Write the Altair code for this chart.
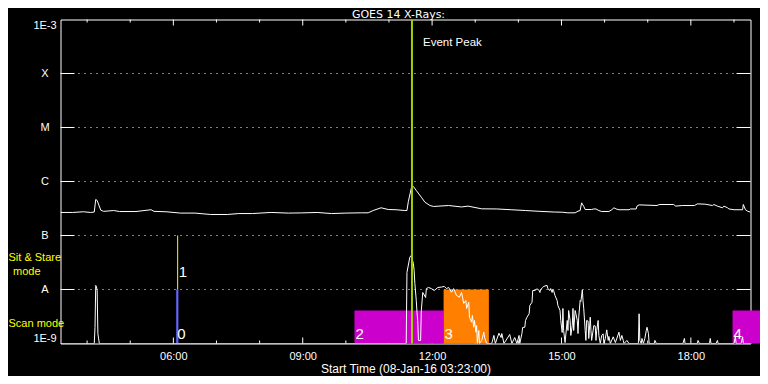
import altair as alt
import pandas as pd

# ---------------- data ----------------
t_start, t_end = "03:23", "19:23"

y_tick_values = [1e-9, 1e-8, 1e-7, 1e-6, 1e-5, 1e-4, 1e-3]
y_tick_labels = ["1E-9", "A", "B", "C", "M", "X", "1E-3"]
grid_levels = [1e-8, 1e-7, 1e-6, 1e-5, 1e-4]

major_ticks = ["06:00", "09:00", "12:00", "15:00", "18:00"]
minor_ticks = ["04:00", "05:00", "07:00", "08:00", "10:00", "11:00",
               "13:00", "14:00", "16:00", "17:00", "19:00"]

# GOES 14 long channel flux (W/m^2)
goes_series = [
    ("03:23", 2.67e-7), ("03:40", 2.67e-7), ("03:55", 2.75e-7), ("04:05", 2.67e-7),
    ("04:10", 2.72e-7), ("04:12", 4.64e-7), ("04:14", 4.45e-7), ("04:19", 2.95e-7),
    ("04:23", 2.8e-7), ("04:37", 2.9e-7), ("04:45", 2.78e-7), ("05:08", 2.78e-7),
    ("05:29", 3.0e-7), ("05:33", 2.8e-7), ("05:50", 2.75e-7), ("06:10", 2.6e-7),
    ("06:30", 2.6e-7), ("06:52", 2.45e-7), ("07:15", 2.45e-7), ("07:31", 2.55e-7),
    ("07:50", 2.55e-7), ("08:16", 2.67e-7), ("08:40", 2.6e-7), ("08:58", 2.62e-7),
    ("09:20", 2.67e-7), ("09:40", 2.55e-7), ("10:00", 2.6e-7), ("10:22", 2.63e-7),
    ("10:31", 2.63e-7), ("10:38", 2.9e-7), ("10:49", 3.26e-7), ("10:59", 3.03e-7),
    ("11:10", 3.0e-7), ("11:22", 2.9e-7), ("11:25", 2.9e-7), ("11:27", 4.3e-7),
    ("11:32", 8.54e-7), ("11:34", 8.08e-7), ("11:38", 6.81e-7), ("11:45", 5.12e-7),
    ("11:50", 4.14e-7), ("11:57", 3.59e-7), ("12:02", 3.45e-7), ("12:23", 3.59e-7),
    ("12:41", 3.38e-7), ("12:50", 3.5e-7), ("13:09", 3.12e-7), ("13:30", 3.1e-7),
    ("13:50", 3.0e-7), ("14:10", 2.9e-7), ("14:30", 2.8e-7), ("14:50", 2.72e-7),
    ("15:01", 2.7e-7), ("15:09", 2.63e-7), ("15:19", 2.63e-7), ("15:23", 2.82e-7),
    ("15:26", 2.9e-7), ("15:28", 4.03e-7), ("15:31", 3.45e-7), ("15:33", 3.03e-7),
    ("15:42", 3.03e-7), ("15:45", 3.1e-7), ("15:48", 3.1e-7), ("15:52", 2.9e-7),
    ("15:56", 2.78e-7), ("16:06", 2.78e-7), ("16:10", 3.0e-7), ("16:13", 3.26e-7),
    ("16:16", 3.1e-7), ("16:20", 3.0e-7), ("16:34", 3.0e-7), ("16:36", 3.1e-7),
    ("16:44", 3.1e-7), ("16:45", 3.5e-7), ("16:48", 3.69e-7), ("17:13", 3.59e-7),
    ("17:16", 3.75e-7), ("17:36", 3.75e-7), ("17:39", 3.5e-7), ("17:48", 3.59e-7),
    ("18:05", 3.59e-7), ("18:09", 3.85e-7), ("18:20", 3.8e-7), ("18:30", 3.59e-7),
    ("18:32", 3.75e-7), ("18:37", 3.5e-7), ("18:44", 3.26e-7), ("18:46", 3.5e-7),
    ("18:51", 3.26e-7), ("18:53", 3.1e-7), ("19:00", 3.0e-7), ("19:12", 3.0e-7),
    ("19:13", 3.75e-7), ("19:16", 3.0e-7), ("19:19", 2.82e-7), ("19:23", 2.7e-7),
]

# lower (instrument) light curve
low_series = [
    ("03:23", 1.0e-9), ("04:10", 1.0e-9), ("04:11", 1.98e-9), ("04:12", 1.19e-8),
    ("04:13", 1.14e-8), ("04:14", 9.6e-9), ("04:15", 1.53e-9), ("04:17", 1.0e-9),
    ("11:24", 1.0e-9), ("11:25", 2.07e-8), ("11:29", 3.96e-8), ("11:31", 4.26e-8),
    ("11:32", 3.75e-8), ("11:34", 3.03e-8), ("11:35", 2.25e-8), ("11:36", 1.29e-8),
    ("11:38", 6.25e-9), ("11:39", 3.75e-9), ("11:40", 2.67e-9), ("11:41", 1.14e-9),
    ("11:44", 1.14e-9), ("11:45", 4.08e-9), ("11:47", 8.8e-9), ("11:51", 7.11e-9),
    ("11:52", 1.04e-8), ("11:55", 1.09e-8), ("11:59", 1.04e-8), ("12:03", 9.58e-9),
    ("12:08", 1.09e-8), ("12:13", 1.11e-8), ("12:17", 1.14e-8), ("12:20", 1.04e-8),
    ("12:23", 1.09e-8), ("12:27", 8.9e-9), ("12:30", 1.04e-8), ("12:34", 7.74e-9),
    ("12:38", 7.2e-9), ("12:41", 8.8e-9), ("12:44", 5.51e-9), ("12:47", 6.25e-9),
    ("12:48", 4.45e-9), ("12:51", 5.8e-9), ("12:52", 3.07e-9), ("12:55", 2.48e-9),
    ("12:56", 3.3e-9), ("12:58", 2.0e-9), ("12:59", 2.67e-9), ("13:01", 1.62e-9),
    ("13:02", 2.15e-9), ("13:03", 1.0e-9), ("13:05", 1.74e-9), ("13:06", 1.0e-9),
    ("13:09", 1.14e-9), ("13:12", 1.62e-9), ("13:13", 1.29e-9), ("13:16", 1.0e-9),
    ("13:23", 1.0e-9), ("13:26", 1.41e-9), ("13:28", 1.0e-9), ("13:33", 1.55e-9),
    ("13:36", 1.29e-9), ("13:37", 1.53e-9), ("13:40", 1.0e-9), ("13:48", 1.47e-9),
    ("13:51", 1.0e-9), ("13:55", 1.29e-9), ("13:58", 1.0e-9), ("14:01", 1.41e-9),
    ("14:02", 1.0e-9), ("14:05", 1.53e-9), ("14:06", 1.98e-9), ("14:09", 2.0e-9),
    ("14:10", 2.67e-9), ("14:12", 3.07e-9), ("14:15", 3.55e-9), ("14:16", 5.06e-9),
    ("14:19", 5.8e-9), ("14:20", 9.58e-9), ("14:23", 9.58e-9), ("14:26", 1.03e-8),
    ("14:29", 9.58e-9), ("14:30", 8.8e-9), ("14:31", 1.0e-8), ("14:34", 1.09e-8),
    ("14:35", 1.14e-8), ("14:40", 1.19e-8), ("14:41", 1.04e-8), ("14:44", 9.58e-9),
    ("14:45", 1.04e-8), ("14:47", 8.8e-9), ("14:48", 1.0e-8), ("14:49", 9.58e-9),
    ("14:51", 7.74e-9), ("14:54", 6.25e-9), ("14:55", 5.06e-9), ("14:58", 4.08e-9),
    ("14:59", 2.67e-9), ("15:01", 1.6e-9), ("15:02", 4.45e-9), ("15:03", 1.74e-9),
    ("15:05", 1.04e-9), ("15:08", 2.67e-9), ("15:09", 1.74e-9), ("15:10", 4.08e-9),
    ("15:12", 2.67e-9), ("15:13", 1.41e-9), ("15:15", 2.15e-9), ("15:16", 4.45e-9),
    ("15:17", 1.74e-9), ("15:19", 4.08e-9), ("15:20", 3.6e-9), ("15:22", 2.67e-9),
    ("15:23", 1.53e-9), ("15:24", 3.07e-9), ("15:26", 6.25e-9), ("15:27", 6.0e-9),
    ("15:29", 9.87e-9), ("15:30", 6.25e-9), ("15:31", 4.39e-9), ("15:33", 1.74e-9),
    ("15:34", 1.14e-9), ("15:35", 2.67e-9), ("15:37", 2.6e-9), ("15:38", 1.24e-9),
    ("15:40", 3.07e-9), ("15:41", 1.74e-9), ("15:42", 1.14e-9), ("15:45", 2.15e-9),
    ("15:47", 2.1e-9), ("15:48", 1.14e-9), ("15:49", 1.74e-9), ("15:51", 2.67e-9),
    ("15:52", 1.41e-9), ("15:54", 1.0e-9), ("15:56", 1.41e-9), ("15:58", 1.51e-9),
    ("15:59", 1.0e-9), ("16:01", 1.24e-9), ("16:03", 1.79e-9), ("16:05", 1.14e-9),
    ("16:06", 1.35e-9), ("16:08", 1.0e-9), ("16:12", 1.33e-9), ("16:15", 1.04e-9),
    ("16:20", 1.62e-9), ("16:22", 1.14e-9), ("16:24", 1.41e-9), ("16:26", 1.14e-9),
    ("16:27", 1.0e-9), ("16:31", 1.14e-9), ("16:34", 1.0e-9), ("16:47", 1.0e-9),
    ("16:48", 3.55e-9), ("16:49", 1.14e-9), ("16:51", 1.0e-9), ("16:52", 1.24e-9),
    ("16:54", 1.0e-9), ("16:56", 1.24e-9), ("16:58", 1.74e-9), ("16:59", 2.0e-9),
    ("17:01", 1.53e-9), ("17:02", 1.0e-9), ("17:09", 1.0e-9), ("17:10", 1.14e-9),
    ("17:12", 1.0e-9), ("17:49", 1.0e-9), ("17:51", 1.24e-9), ("17:52", 1.0e-9),
    ("18:09", 1.0e-9), ("18:10", 1.14e-9), ("18:12", 1.0e-9), ("18:26", 1.0e-9),
    ("18:27", 1.24e-9), ("18:28", 1.0e-9), ("18:35", 1.0e-9), ("18:37", 1.14e-9),
    ("18:38", 1.0e-9), ("19:00", 1.0e-9), ("19:02", 1.33e-9), ("19:03", 1.0e-9),
    ("19:10", 1.0e-9), ("19:12", 1.33e-9), ("19:13", 1.0e-9), ("19:23", 1.0e-9),
]

# observation blocks
band_start = ["06:04", "10:12", "12:16", "18:58"]
band_end = ["06:07", "12:16", "13:19", "19:52"]
band_top = [1e-8, 4.08e-9, 1e-8, 4.08e-9]
band_color = ["#6464ff", "#cc00cc", "#ff8000", "#cc00cc"]

# block numbers
label_time = ["06:04", "06:06", "10:12", "12:16", "18:58"]
label_text = ["0", "1", "2", "3", "4"]
label_flux = [1.53e-9, 2.07e-8, 1.53e-9, 1.53e-9, 1.53e-9]

# sit & stare marker line
stare_time = "06:06"
stare_range = (1e-8, 1e-7)

# event peak
peak_time = "11:32"
peak_label_flux = 3.6e-4

# mode annotations on the left
mode_text_a = ["Sit & Stare", "Scan mode"]
mode_flux_a = [3.8e-8, 2.25e-9]
mode_text_b = ["mode"]
mode_flux_b = [2.07e-8]

chart_title = "GOES 14 X-Rays:"

# ---------------- helpers ----------------
def stamp(hm):
    return "2016-01-08T" + hm + ":00"


def dt(hm):
    h, m = hm.split(":")
    return alt.DateTime(year=2016, month=1, date=8, hours=int(h), minutes=int(m))


W, H = 690, 324
FONT = "Liberation Sans"

x_scale = alt.Scale(domain=[dt(t_start), dt(t_end)])
y_scale = alt.Scale(type="log", domain=[1e-9, 1e-3], nice=False)

label_expr = ""
for v, lab in zip(reversed(y_tick_values), reversed(y_tick_labels)):
    label_expr += f"datum.value > {v * 0.5} ? '{lab}' : "
label_expr += f"'{y_tick_labels[0]}'"

x_axis = alt.Axis(values=[dt(t) for t in major_ticks], format="%H:%M",
                  labelColor="white", labelFont=FONT, labelFontSize=11,
                  labelBaseline="alphabetic", labelPadding=16, labelFlush=False,
                  labelOverlap=False, ticks=False, tickSize=0, domain=False, grid=False,
                  title="Start Time (08-Jan-16 03:23:00)", titleColor="white",
                  titleFont=FONT, titleFontSize=12, titleFontWeight="normal",
                  titleBaseline="alphabetic", titleY=28.5)
y_axis = alt.Axis(values=y_tick_values, labelExpr=label_expr, labelColor="white",
                  labelFont=FONT, labelFontSize=11, labelAlign="center",
                  labelPadding=16, labelFlush=True, labelOverlap=False,
                  ticks=False, tickSize=0, domain=False, grid=False, title=None)

X = lambda f="t": alt.X(f"{f}:T", scale=x_scale, axis=x_axis)
Y = lambda f="f": alt.Y(f"{f}:Q", scale=y_scale, axis=y_axis)

# ---------------- data frames ----------------
goes_df = pd.DataFrame({"t": [stamp(t) for t, _ in goes_series],
                        "f": [v for _, v in goes_series]})
low_df = pd.DataFrame({"t": [stamp(t) for t, _ in low_series],
                       "f": [v for _, v in low_series]})
grid_df = pd.DataFrame({"f": grid_levels})
major_df = pd.DataFrame({"t": [stamp(t) for t in major_ticks]})
minor_df = pd.DataFrame({"t": [stamp(t) for t in minor_ticks]})
band_df = pd.DataFrame({"t": [stamp(t) for t in band_start],
                        "t2": [stamp(t) for t in band_end],
                        "f": [1e-9] * len(band_start), "f2": band_top,
                        "c": band_color})
label_df = pd.DataFrame({"t": [stamp(t) for t in label_time],
                         "f": label_flux, "txt": label_text})
stare_df = pd.DataFrame({"t": [stamp(stare_time)], "f": [stare_range[0]],
                         "f2": [stare_range[1]]})
peak_df = pd.DataFrame({"t": [stamp(peak_time)], "f": [peak_label_flux],
                        "txt": ["Event Peak"]})
mode_a_df = pd.DataFrame({"f": mode_flux_a, "txt": mode_text_a})
mode_b_df = pd.DataFrame({"f": mode_flux_b, "txt": mode_text_b})
title_df = pd.DataFrame({"txt": [chart_title]})

# ---------------- layers ----------------
grid_l = alt.Chart(grid_df).mark_rule(color="white", strokeWidth=1).encode(
    y=Y(), x=alt.value(0), x2=alt.value(14))
grid_m = alt.Chart(grid_df).mark_rule(color="white", strokeWidth=1,
                                      strokeDash=[1, 5]).encode(
    y=Y(), x=alt.value(18), x2=alt.value(W - 15))
grid_r = alt.Chart(grid_df).mark_rule(color="white", strokeWidth=1).encode(
    y=Y(), x=alt.value(W - 14), x2=alt.value(W))

tick_layers = []
for df, ln in ((major_df, 6), (minor_df, 3)):
    tick_layers.append(alt.Chart(df).mark_rule(color="white", strokeWidth=1).encode(
        x=X(), y=alt.value(0), y2=alt.value(ln)))
    tick_layers.append(alt.Chart(df).mark_rule(color="white", strokeWidth=1).encode(
        x=X(), y=alt.value(H), y2=alt.value(H - ln)))

bands = alt.Chart(band_df).mark_rect(clip=False).encode(
    x=X(), x2="t2:T", y=Y(), y2="f2:Q", color=alt.Color("c:N", scale=None))

stare = alt.Chart(stare_df).mark_rule(color="#ffff00", strokeWidth=1).encode(
    x=X(), y=Y(), y2="f2:Q")

goes_line = alt.Chart(goes_df).mark_line(color="white", strokeWidth=1, clip=True).encode(
    x=X(), y=Y())
low_line = alt.Chart(low_df).mark_line(color="white", strokeWidth=1, clip=True).encode(
    x=X(), y=Y())

peak_rule = alt.Chart(peak_df).mark_rule(color="#9fd200", strokeWidth=2).encode(x=X())
peak_text = alt.Chart(peak_df).mark_text(
    align="left", baseline="middle", dx=11, color="white", font=FONT,
    fontSize=11.5).encode(x=X(), y=Y(), text="txt:N")

labels = alt.Chart(label_df).mark_text(
    align="left", baseline="middle", dx=1, color="white", font=FONT,
    fontSize=15).encode(x=X(), y=Y(), text="txt:N")

mode_a = alt.Chart(mode_a_df).mark_text(
    align="left", baseline="middle", color="#ffff00", font=FONT,
    fontSize=11).encode(x=alt.value(-52), y=Y(), text="txt:N")
mode_b = alt.Chart(mode_b_df).mark_text(
    align="left", baseline="middle", color="#ffff00", font=FONT,
    fontSize=11).encode(x=alt.value(-47.5), y=Y(), text="txt:N")

title_text = alt.Chart(title_df).mark_text(
    align="center", baseline="alphabetic", color="white", font="DejaVu Sans",
    fontSize=11).encode(x=alt.value(W / 2 - 7), y=alt.value(-1.2), text="txt:N")

chart = alt.layer(
    grid_l, grid_m, grid_r, *tick_layers, bands, stare, goes_line, low_line,
    peak_rule, peak_text, labels, mode_a, mode_b, title_text
).properties(
    width=W, height=H,
    autosize=alt.AutoSizeParams(type="none"),
    padding={"left": 52.5, "top": 11.5, "right": 9.5, "bottom": 32.5},
    background="black",
).configure_view(stroke="white", strokeWidth=1)

chart.save("out.html", embed_options={"renderer": "svg", "actions": False})
